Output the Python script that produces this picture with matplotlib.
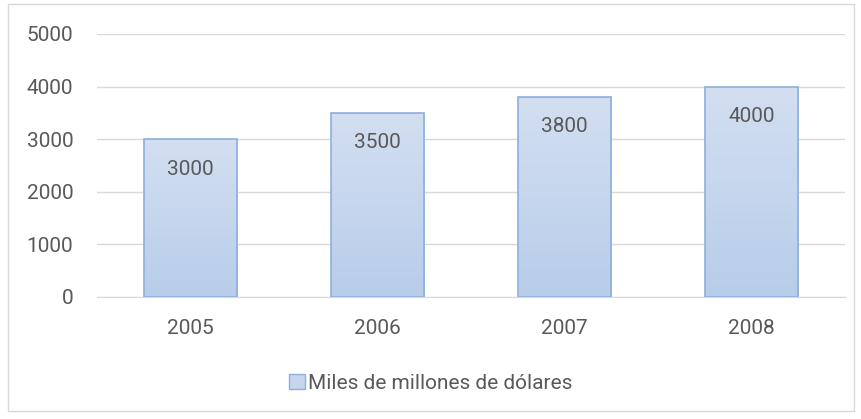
import matplotlib.pyplot as plt
import numpy as np
from matplotlib.patches import Patch, Rectangle
from matplotlib.colors import LinearSegmentedColormap

years = ['2005', '2006', '2007', '2008']
values = [3000, 3500, 3800, 4000]
series_name = 'Miles de millones de dólares'
yticks = [0, 1000, 2000, 3000, 4000, 5000]

plt.rcParams['font.family'] = ['Roboto', 'DejaVu Sans']
text_color = '#595959'
grid_color = '#D9D9D9'
edge_color = '#8DB0DC'

fig = plt.figure(figsize=(8.62, 4.19), dpi=100)
fig.patches.append(Rectangle((0.009, 0.02), 0.982, 0.97, transform=fig.transFigure,
                             fill=False, edgecolor=grid_color, linewidth=1))
ax = fig.add_axes([0.1125, 0.2912, 0.868, 0.6277])

x = np.arange(len(years))
bars = ax.bar(x, values, width=0.5, color='none', edgecolor=edge_color, linewidth=1.2, zorder=3)

# vertical gradient fill, clipped to each bar
cmap = LinearSegmentedColormap.from_list('grad', ['#B8CDEA', '#D3DFF1'])
grad = np.linspace(0, 1, 256).reshape(-1, 1)
for b in bars:
    x0, y0 = b.get_x(), b.get_y()
    w, h = b.get_width(), b.get_height()
    im = ax.imshow(grad, cmap=cmap, aspect='auto', origin='lower',
                   extent=[x0, x0 + w, y0, y0 + h], zorder=2)
    im.set_clip_path(b)

for xi, v in zip(x, values):
    ax.annotate(str(v), (xi, v), xytext=(0, -21.5), textcoords='offset points',
                ha='center', va='center', fontsize=15, color=text_color, zorder=4)

ax.set_xlim(-0.5, len(years) - 0.5)
ax.set_ylim(0, 5000)
ax.set_xticks(x)
ax.set_xticklabels(years)
ax.set_yticks(yticks)
ax.tick_params(axis='both', length=0, labelsize=15, colors=text_color)
ax.tick_params(axis='y', pad=17)
ax.tick_params(axis='x', pad=16)
ax.grid(axis='y', color=grid_color, linewidth=1, zorder=0)
for s in ['top', 'right', 'left']:
    ax.spines[s].set_visible(False)
ax.spines['bottom'].set_color(grid_color)
ax.set_facecolor('none')

handle = Patch(facecolor='#C5D6EE', edgecolor=edge_color, label=series_name)
fig.legend(handles=[handle], loc='center', bbox_to_anchor=(0.5, 0.085), frameon=False,
           fontsize=15, labelcolor=text_color, handlelength=0.75, handleheight=0.75,
           handletextpad=0.15)

fig.savefig('out.png', dpi=100)
